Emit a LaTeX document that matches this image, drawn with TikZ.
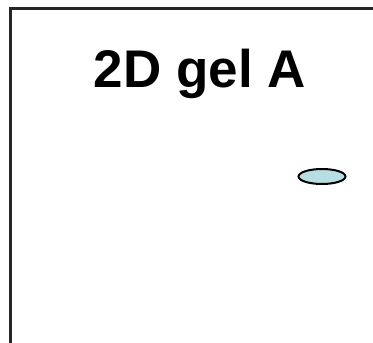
\documentclass[tikz,border=0pt]{standalone}
\usepackage{fontspec}
\setmainfont{Liberation Sans}
\definecolor{spotfill}{RGB}{183,222,226}
\tikzset{frameline/.style={line width=2.5pt,draw=black!85},
spot/.style={ellipse,draw=black,line width=2pt,fill=spotfill,minimum width=47pt,minimum height=15pt,inner sep=0pt},
titletext/.style={font=\fontsize{53}{63}\selectfont\bfseries,inner sep=0pt,anchor=base}}
\usetikzlibrary{shapes.geometric}
\begin{document}
\begin{tikzpicture}[x=1pt,y=-1pt]
\useasboundingbox (0,0) rectangle (373,343);
\coordinate (bl) at (10.5,345);
\coordinate (tl) at (10.5,8.5);
\coordinate (tr) at (375,8.5);
\draw[frameline] (bl) -- (tl) -- (tr);
\node[titletext] (title) at (200,87) {2D gel A};
\node[spot] (s) at (322,176.5) {};
\end{tikzpicture}
\end{document}
